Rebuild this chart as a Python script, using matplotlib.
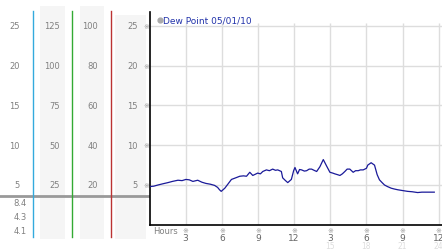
import matplotlib
matplotlib.use('Agg')
import matplotlib.pyplot as plt
import matplotlib.transforms as mtransforms

# dew point readings, hours since midnight
hours = [0.0, 0.35, 0.7, 1.1, 1.53, 1.9, 2.36, 2.7, 3.02, 3.3, 3.6, 4.0, 4.35, 4.68,
         5.05, 5.4, 5.65, 5.81, 5.95, 6.25, 6.5, 6.8, 7.15, 7.49, 7.8, 8.05, 8.32,
         8.57, 8.98, 9.2, 9.4, 9.7, 9.95, 10.22, 10.45, 10.64, 10.94, 11.05, 11.25,
         11.47, 11.77, 11.96, 12.07, 12.29, 12.45, 12.62, 12.85, 13.04, 13.25, 13.45,
         13.65, 13.87, 14.14, 14.42, 14.69, 14.97, 15.2, 15.38, 15.6, 15.8, 16.0,
         16.21, 16.4, 16.62, 16.9, 17.1, 17.32, 17.5, 17.73, 18.0, 18.11, 18.39,
         18.67, 18.89, 19.08, 19.3, 19.5, 19.75, 20.05, 20.3, 20.6, 21.0, 21.42,
         21.8, 22.25, 22.6, 23.08, 23.63]
dew = [4.8, 4.85, 5.0, 5.15, 5.3, 5.45, 5.6, 5.55, 5.7, 5.65, 5.45, 5.6, 5.35, 5.2,
       5.1, 4.95, 4.7, 4.4, 4.2, 4.6, 5.1, 5.7, 5.9, 6.1, 6.15, 6.1, 6.6,
       6.2, 6.5, 6.4, 6.7, 6.9, 6.8, 7.0, 6.85, 6.9, 6.7, 5.9, 5.6,
       5.3, 5.7, 6.8, 7.2, 6.4, 6.95, 6.9, 6.75, 6.8, 7.0, 7.0,
       6.85, 6.7, 7.3, 8.2, 7.4, 6.6, 6.5, 6.4, 6.3, 6.2, 6.4,
       6.7, 7.0, 7.0, 6.6, 6.8, 6.8, 6.9, 6.9, 7.1, 7.5, 7.8,
       7.5, 6.3, 5.65, 5.3, 5.0, 4.8, 4.6, 4.5, 4.4, 4.3, 4.2,
       4.15, 4.05, 4.1, 4.1, 4.1]

levels = [25, 20, 15, 10, 5]
col_a = ['25', '20', '15', '10', '5']
col_b = ['125', '100', '75', '50', '25']
col_c = ['100', '80', '60', '40', '20']
col_d = ['25', '20', '15', '10', '5']
lower = ['8.4', '4.3', '4.1']
hour_ticks = [3, 6, 9, 12, 15, 18, 21, 24]
hour_labels = ['3', '6', '9', '12', '3', '6', '9', '12']
faint_ticks = [15, 18, 21, 24]
faint_labels = ['15', '18', '21', '24']

plt.rcParams['font.family'] = ['DejaVu Sans']

fig = plt.figure(figsize=(4.42, 2.53), dpi=100)
bg = fig.add_axes([0, 0, 1, 1])
bg.set_xlim(0, 442)
bg.set_ylim(253, 0)
bg.axis('off')

ax = fig.add_axes([149.5 / 442, 27.25 / 253, 292.5 / 442, 212.75 / 253])
ax.set_xlim(0, 24.27)
ax.set_ylim(0, 26.76)
for s in ['top', 'right']:
    ax.spines[s].set_visible(False)
ax.spines['left'].set_linewidth(1.2)
ax.spines['bottom'].set_linewidth(1.2)
ax.set_xticks([])
ax.set_yticks([])

# grid
ax.hlines(levels, 0, 24.27, color='#dddddd', lw=1, zorder=1)
ax.vlines(hour_ticks, 0, 25.4, color='#dddddd', lw=1, zorder=1)

ax.plot(hours, dew, color='#1a1a99', lw=0.9, zorder=3)

# legend
ax.plot([0.9], [25.8], 'o', ms=3.5, color='#aaaaaa', clip_on=False)
ax.text(1.15, 25.8, 'Dew Point 05/01/10', color='#2233aa', fontsize=6.5, va='center')

# left panel
tr = mtransforms.blended_transform_factory(bg.transData, ax.transData)
gray = '#808080'
for x0, x1, ytop in [(40, 65, 7), (80, 104, 7), (115, 146, 16)]:
    bg.fill_between([x0, x1], ytop, 240, color='#f5f5f5', lw=0, zorder=0)
for xr, col in [(20, col_a), (60, col_b), (98, col_c), (138, col_d)]:
    for lv, lab in zip(levels, col):
        bg.text(xr, lv, lab, transform=tr, ha='right', va='center', fontsize=6, color=gray)
for lv in levels:
    bg.text(146, lv, '\u203b', transform=tr, ha='center', va='center', fontsize=5, color='#999999')
for yy, lab in zip([204, 218, 232], lower):
    bg.text(27, yy, lab, ha='right', va='center', fontsize=6, color=gray)
bg.plot([0, 149], [197, 197], color='#999999', lw=2, zorder=2)
for xx, c in [(33, '#33aadd'), (72, '#33aa33'), (111, '#bb3333')]:
    bg.plot([xx, xx], [12, 238], color=c, lw=1, zorder=2)

# bottom labels
trx = mtransforms.blended_transform_factory(ax.transData, bg.transData)
bg.text(153, 232, 'Hours', ha='left', va='center', fontsize=6, color=gray)
for h, lab in zip(hour_ticks, hour_labels):
    bg.text(h, 231, '\u203b', transform=trx, ha='center', va='center', fontsize=5, color='#999999')
    bg.text(h, 239, lab, transform=trx, ha='center', va='center', fontsize=6.5, color='#666666')
for h, lab in zip(faint_ticks, faint_labels):
    bg.text(h, 247, lab, transform=trx, ha='center', va='center', fontsize=5.5, color='#dddddd')

fig.savefig('out.png', dpi=100)
